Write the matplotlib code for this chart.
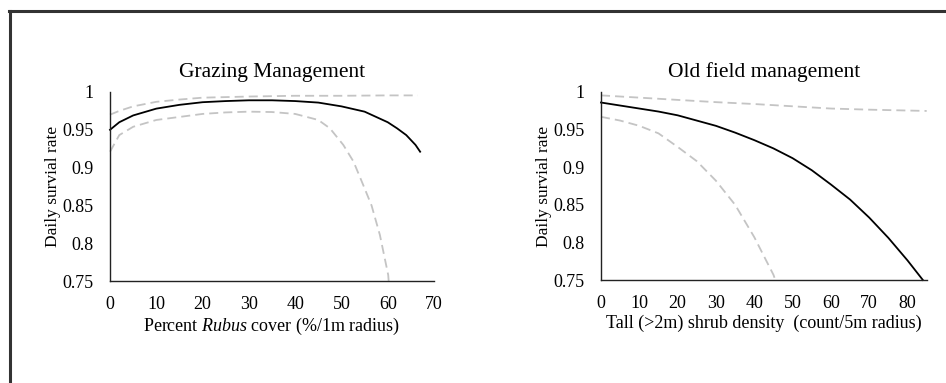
import matplotlib
matplotlib.use("Agg")
import matplotlib.pyplot as plt
from matplotlib.lines import Line2D

plt.rcParams['font.family'] = ['Liberation Serif', 'DejaVu Serif']
plt.rcParams['mathtext.fontset'] = 'custom'
plt.rcParams['mathtext.rm'] = 'Liberation Serif'
plt.rcParams['mathtext.it'] = 'Liberation Serif:italic'

# grazing management (percent Rubus cover)
graze_x = [0, 2, 5, 10, 15, 20, 25, 30, 35, 40, 45, 50, 55, 60, 62, 64, 66, 67]
graze_est = [0.950, 0.960, 0.969, 0.978, 0.983, 0.9865, 0.988, 0.989, 0.989, 0.988,
             0.986, 0.981, 0.974, 0.960, 0.952, 0.943, 0.930, 0.921]
graze_up_x = [0, 2, 5, 10, 15, 20, 30, 40, 50, 60, 66.5]
graze_up = [0.970, 0.975, 0.981, 0.987, 0.990, 0.9925, 0.994, 0.995, 0.995, 0.9955, 0.9955]
graze_lo_x = [0, 2, 5, 10, 15, 20, 25, 30, 35, 40, 45, 47.5, 50.4, 52.6, 54.7, 56.5, 58.3, 60.1, 60.2]
graze_lo = [0.921, 0.943, 0.954, 0.963, 0.967, 0.971, 0.973, 0.974, 0.9735, 0.971,
            0.963, 0.952, 0.930, 0.908, 0.877, 0.850, 0.811, 0.758, 0.750]

# old field management (tall shrub density)
old_x = [0, 5, 10, 15, 20, 25, 30, 35, 40, 45, 50, 55, 60, 65, 70, 75, 80, 84]
old_est = [0.986, 0.982, 0.978, 0.974, 0.969, 0.962, 0.955, 0.946, 0.936, 0.925,
           0.912, 0.896, 0.877, 0.857, 0.833, 0.806, 0.776, 0.750]
old_up_x = [0, 10, 20, 30, 40, 50, 60, 70, 85]
old_up = [0.9955, 0.9925, 0.9895, 0.9865, 0.984, 0.981, 0.978, 0.9765, 0.9748]
old_lo_x = [0, 5, 10, 15, 20, 25, 30, 35, 40, 45, 45.5]
old_lo = [0.967, 0.962, 0.955, 0.945, 0.927, 0.908, 0.882, 0.850, 0.807, 0.757, 0.750]

yticks = [0.75, 0.8, 0.85, 0.9, 0.95, 1]
ylabels = ['0.75', '0.8', '0.85', '0.9', '0.95', '1']

fig = plt.figure(figsize=(9.46, 3.83), dpi=100)
ax1 = fig.add_axes([0.1163, 0.2663, 0.3425, 0.4935])
ax2 = fig.add_axes([0.6353, 0.2689, 0.3443, 0.4909])

dash_col = '#c4c4c4'
panels = [
    (ax1, graze_x, graze_est, graze_up_x, graze_up, graze_lo_x, graze_lo, 70,
     list(range(0, 80, 10)), 'Grazing Management'),
    (ax2, old_x, old_est, old_up_x, old_up, old_lo_x, old_lo, 85,
     list(range(0, 90, 10)), 'Old field management'),
]

for ax, x, est, ux, up, lx, lo, xmax, xt, title in panels:
    ax.plot(ux, up, color=dash_col, lw=1.3, dashes=(5, 2.8), clip_on=False)
    ax.plot(lx, lo, color=dash_col, lw=1.3, dashes=(5, 2.8), clip_on=False)
    ax.plot(x, est, color='black', lw=1.3, clip_on=False)
    ax.set_xlim(0, xmax)
    ax.set_ylim(0.75, 1)
    ax.set_yticks(yticks)
    ax.set_yticklabels(ylabels)
    ax.set_xticks(xt)
    ax.tick_params(length=0, labelsize=13)
    ax.tick_params(axis='y', pad=12)
    ax.tick_params(axis='x', pad=11)
    for s in ['top', 'right']:
        ax.spines[s].set_visible(False)
    for s in ['left', 'bottom']:
        ax.spines[s].set_color('#222222')
        ax.spines[s].set_linewidth(1.0)
    ax.set_ylabel('Daily survial rate', fontsize=12.5, labelpad=1)
    ax.set_title(title, fontsize=15.5, pad=11)

ax1.set_xlabel('Percent $\\it{Rubus}$ cover (%/1m radius)', fontsize=13, labelpad=2)
ax2.set_xlabel('Tall (>2m) shrub density  (count/5m radius)', fontsize=13, labelpad=2)

# frame lines at top and left of the figure
fig.add_artist(Line2D([10 / 946, 10 / 946], [0, 1 - 11 / 383], color='#333333', lw=2.2))
fig.add_artist(Line2D([9 / 946, 1], [1 - 11 / 383, 1 - 11 / 383], color='#333333', lw=2.2))

fig.savefig('out.png', dpi=100)
